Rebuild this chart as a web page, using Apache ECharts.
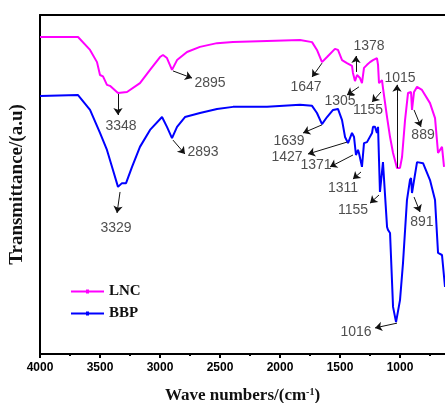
<!DOCTYPE html>
<html>
<head>
<meta charset="utf-8">
<title>FTIR - LNC / BBP</title>
<script src="https://cdn.jsdelivr.net/npm/echarts@6/dist/echarts.min.js"></script>
<style>
  html, body { margin: 0; padding: 0; background: #fff; }
  #main { width: 445px; height: 403px; }
</style>
</head>
<body>
<div id="main"></div>
<script>
// wave numbers (cm-1) and transmittance (a.u.)
var lncWave = [4000, 3683, 3583, 3525, 3500, 3475, 3442, 3417, 3350, 3275, 3167, 3083, 3000, 2975, 2942, 2900, 2858, 2775, 2667, 2525, 2392, 2108, 1833, 1733, 1692, 1650, 1608, 1542, 1517, 1483, 1442, 1400, 1392, 1375, 1358, 1333, 1317, 1300, 1275, 1250, 1225, 1192, 1183, 1175, 1150, 1142, 1108, 1083, 1058, 1025, 1000, 983, 958, 933, 908, 900, 883, 858, 817, 750, 708, 683, 650, 633];
var lncT = [93.5, 93.5, 89.7, 86.1, 82.3, 81.9, 79.4, 79.1, 77.0, 77.3, 79.9, 83.8, 87.6, 88.2, 87.3, 83.8, 86.7, 89.1, 90.6, 91.7, 92.0, 92.3, 92.6, 92.0, 89.7, 86.1, 87.6, 90.0, 89.7, 86.7, 85.8, 85.0, 82.9, 80.5, 82.3, 81.4, 79.9, 84.4, 85.3, 86.1, 86.7, 87.3, 85.3, 79.9, 80.8, 78.5, 69.9, 64.0, 59.3, 54.9, 54.9, 58.1, 69.0, 77.0, 77.3, 72.0, 77.3, 78.8, 77.9, 74.0, 69.6, 59.3, 61.1, 55.2];

var bbpWave = [4000, 3683, 3583, 3500, 3442, 3392, 3350, 3317, 3283, 3233, 3167, 3083, 2983, 2942, 2900, 2858, 2792, 2667, 2525, 2392, 2108, 1833, 1733, 1692, 1650, 1608, 1558, 1517, 1483, 1458, 1433, 1400, 1383, 1367, 1350, 1342, 1317, 1300, 1275, 1233, 1225, 1208, 1192, 1183, 1167, 1142, 1108, 1100, 1083, 1058, 1033, 1000, 975, 942, 917, 908, 900, 858, 808, 750, 708, 683, 650, 625];
var bbpT = [76.1, 76.4, 72.0, 65.2, 60.2, 54.3, 49.3, 50.4, 50.4, 55.2, 61.1, 66.1, 69.9, 67.0, 63.7, 67.0, 69.9, 71.1, 72.3, 72.9, 72.9, 73.5, 73.2, 71.1, 67.8, 69.9, 72.0, 72.3, 69.0, 64.0, 62.2, 65.2, 64.0, 58.7, 60.2, 59.3, 55.2, 62.2, 62.5, 65.2, 67.0, 67.0, 65.2, 67.0, 47.8, 56.6, 37.5, 36.6, 35.7, 13.9, 9.4, 15.9, 26.8, 45.4, 51.3, 51.9, 47.5, 56.6, 56.3, 51.3, 45.4, 29.8, 29.2, 19.8];

var xMajor = [4000, 3500, 3000, 2500, 2000, 1500, 1000];
var xMinor = [3750, 3250, 2750, 2250, 1750, 1250, 750];

// peak labels: [wave, T, text]
var peakLabels = [
  [3325, 67.3, '3348'], [2583, 79.9, '2895'], [1783, 78.8, '1647'],
  [1258, 90.9, '1378'], [1500, 74.6, '1305'], [1267, 72.0, '1155'],
  [1000, 81.4, '1015'], [808, 64.6, '889'],
  [1925, 62.8, '1639'], [1942, 58.1, '1427'], [1700, 55.8, '1371'],
  [1475, 49.0, '1311'], [1392, 42.5, '1155'], [817, 38.9, '891'],
  [1367, 6.5, '1016'], [3367, 37.2, '3329'], [2642, 59.6, '2893']
];
// arrows: [fromWave, fromT, toWave, toT]
var arrows = [
  [3350, 76.7, 3350, 70.5], [2892, 83.5, 2733, 81.4], [1650, 85.8, 1733, 81.7],
  [1367, 83.2, 1367, 87.9], [1342, 78.8, 1442, 76.4], [1158, 77.3, 1233, 74.3],
  [1025, 54.9, 1025, 79.4], [883, 72.0, 825, 67.0],
  [1650, 67.6, 1808, 65.2], [1442, 62.5, 1767, 59.0], [1392, 58.7, 1583, 55.2],
  [1325, 53.7, 1392, 51.6], [1175, 46.9, 1250, 44.5], [883, 46.3, 833, 41.9],
  [1025, 9.1, 1208, 7.7], [3333, 47.8, 3358, 41.6], [2892, 63.1, 2792, 59.0]
];

function zip(a, b) {
  return a.map(function (v, i) { return [v, b[i]]; });
}

var myChart = echarts.init(document.getElementById('main'));

// legend key: a line with a small dot in the middle
var legendIcon = 'path://M0,2h33v2h-33z M15,1h3v4h-3z';

var option = {
  animation: false,
  grid: { left: 40, top: 15, right: 0, bottom: 49, outerBoundsMode: 'none' },
  legend: {
    data: [{ name: 'LNC', icon: legendIcon }, { name: 'BBP', icon: legendIcon }],
    orient: 'vertical',
    left: 66,
    top: 279,
    itemWidth: 33,
    itemHeight: 4,
    itemGap: 7,
    textStyle: { fontFamily: 'Liberation Serif', fontWeight: 'bold', fontSize: 15, color: '#111' }
  },
  xAxis: [{
    type: 'value',
    inverse: true,
    min: 625,
    max: 4000,
    name: 'Wave numbers/(cm{sup|-1})',
    nameLocation: 'middle',
    nameGap: 33,
    nameTextStyle: {
      fontFamily: 'Liberation Serif', fontWeight: 'bold', fontSize: 17, color: '#111',
      rich: { sup: { fontFamily: 'Liberation Serif', fontWeight: 'bold', fontSize: 10, verticalAlign: 'top', padding: [0, 0, 8, 0] } }
    },
    axisLine: { lineStyle: { color: '#000', width: 2 } },
    axisTick: { customValues: xMajor, length: 4, lineStyle: { color: '#000', width: 2 } },
    axisLabel: {
      customValues: xMajor, margin: 8,
      formatter: function (v) { return String(v); },
      fontFamily: 'Liberation Sans', fontWeight: 'bold', fontSize: 12, color: '#000'
    },
    splitLine: { show: false }
  }, {
    type: 'value',
    inverse: true,
    min: 625,
    max: 4000,
    position: 'bottom',
    axisLine: { show: false },
    axisTick: { customValues: xMinor, length: 2, lineStyle: { color: '#000', width: 2 } },
    axisLabel: { show: false },
    splitLine: { show: false }
  }, {
    type: 'value',
    inverse: true,
    min: 625,
    max: 4000,
    position: 'top',
    axisLine: { lineStyle: { color: '#000', width: 2 } },
    axisTick: { show: false },
    axisLabel: { show: false },
    splitLine: { show: false }
  }],
  yAxis: {
    type: 'value',
    min: 0,
    max: 100,
    name: 'Transmittance/(a.u)',
    nameLocation: 'middle',
    nameRotate: 90,
    nameGap: 13,
    nameTextStyle: { fontFamily: 'Liberation Serif', fontWeight: 'bold', fontSize: 19, color: '#111' },
    axisLine: { show: true, lineStyle: { color: '#000', width: 2 } },
    axisTick: { show: false },
    axisLabel: { show: false },
    splitLine: { show: false }
  },
  series: [{
    name: 'LNC',
    type: 'line',
    data: zip(lncWave, lncT),
    showSymbol: false,
    color: '#ff00ff',
    lineStyle: { width: 2 }
  }, {
    name: 'BBP',
    type: 'line',
    data: zip(bbpWave, bbpT),
    showSymbol: false,
    color: '#0000ff',
    lineStyle: { width: 2 }
  }, {
    name: 'peaks',
    type: 'scatter',
    symbolSize: 1,
    itemStyle: { color: 'rgba(0,0,0,0)' },
    data: peakLabels.map(function (p) { return { value: [p[0], p[1]], name: p[2] }; }),
    label: {
      show: true,
      position: 'inside',
      formatter: '{b}',
      fontFamily: 'Liberation Sans',
      fontSize: 14,
      color: '#222'
    },
    markLine: {
      silent: true,
      symbol: ['none', 'arrow'],
      symbolSize: 7,
      label: { show: false },
      lineStyle: { color: '#111', width: 1, type: 'solid' },
      data: arrows.map(function (a) {
        return [{ coord: [a[0], a[1]] }, { coord: [a[2], a[3]] }];
      })
    }
  }]
};

myChart.setOption(option);
</script>
</body>
</html>
